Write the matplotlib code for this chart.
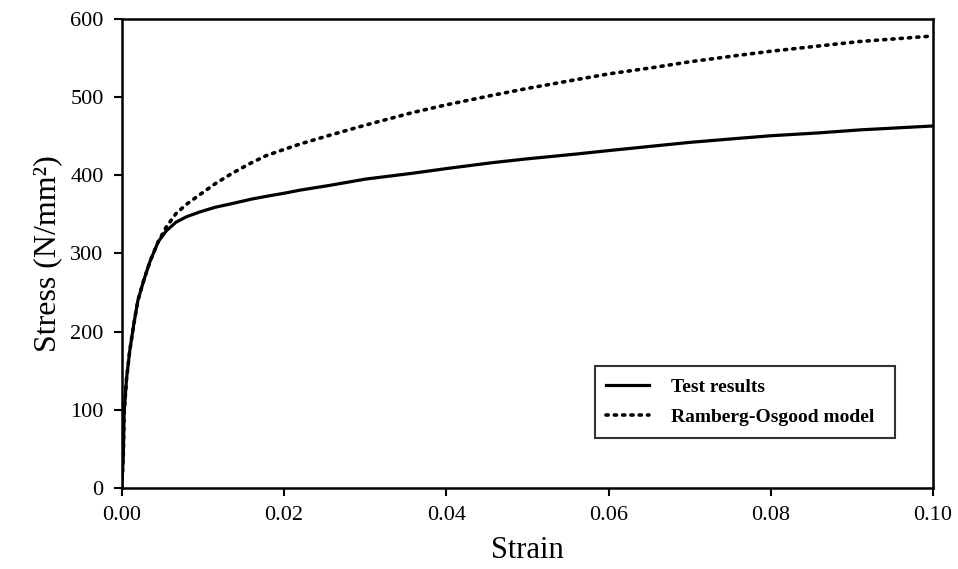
import numpy as np
import matplotlib
matplotlib.use('Agg')
import matplotlib.pyplot as plt

# values
test_strain = [0, 0.0002, 0.0003, 0.0006, 0.001, 0.0015, 0.002, 0.0027, 0.0035,
               0.0045, 0.0055, 0.0067, 0.008, 0.0096, 0.0115, 0.0137, 0.016,
               0.0178, 0.02, 0.022, 0.0256, 0.03, 0.0358, 0.04, 0.0456, 0.05,
               0.0559, 0.06, 0.0657, 0.07, 0.0758, 0.08, 0.0857, 0.091, 0.1]
test_stress = [0, 40, 96, 140, 176, 210, 240, 265, 290,
               315, 329, 340, 347, 353, 359, 364, 369.5,
               373, 377, 381, 387, 395, 402.5, 408.5, 416, 421,
               427, 431.5, 437.5, 442, 447, 450.5, 454, 458, 463]

ro_strain = [0, 0.0002, 0.0003, 0.0006, 0.001, 0.0015, 0.002, 0.0027, 0.0035,
             0.0045, 0.0055, 0.0067, 0.008, 0.0096, 0.0115, 0.0137, 0.016,
             0.0178, 0.02, 0.022, 0.0256, 0.03, 0.0358, 0.04, 0.0456, 0.05,
             0.0559, 0.06, 0.0657, 0.07, 0.0758, 0.08, 0.0857, 0.091, 0.1]
ro_stress = [0, 40, 96, 140, 176, 210, 240, 265, 290,
             315, 334, 351, 363, 375, 389, 403, 416,
             425, 433, 440, 451, 464, 480, 490, 502, 511,
             522, 529.5, 538, 545, 553, 558.5, 565, 571, 578]

x_ticks = [0.00, 0.02, 0.04, 0.06, 0.08, 0.10]
y_ticks = [0, 100, 200, 300, 400, 500, 600]

plt.rcParams['font.family'] = ['Liberation Serif', 'DejaVu Serif']

fig = plt.figure(figsize=(9.58, 5.69), dpi=100)
ax = fig.add_axes([0.127, 0.142, 0.847, 0.825])

ax.plot(test_strain, test_stress, color='black', lw=2.3, label='Test results')
ax.plot(ro_strain, ro_stress, color='black', lw=2.6, linestyle=(0, (0.6, 1.7)),
        dash_capstyle='round', label='Ramberg-Osgood model')

ax.set_xlim(0, 0.1)
ax.set_ylim(0, 600)
ax.set_xticks(x_ticks)
ax.set_xticklabels([f'{v:.2f}' for v in x_ticks])
ax.set_yticks(y_ticks)
ax.tick_params(direction='out', length=6, width=1.5, labelsize=16, pad=7)
for s in ax.spines.values():
    s.set_linewidth(1.8)

ax.set_xlabel('Strain', fontsize=22, labelpad=8)
ax.set_ylabel('Stress (N/mm²)', fontsize=23, labelpad=6)

leg = ax.legend(loc='lower left', bbox_to_anchor=(0.571, 0.087, 0.394, 0.2),
                mode='expand', fancybox=False, edgecolor='black',
                handlelength=2.2, handletextpad=1.1, borderpad=0.6,
                labelspacing=0.65, prop={'weight': 'bold', 'size': 14})
leg.get_frame().set_linewidth(1.5)

fig.savefig('out.png', dpi=100)
